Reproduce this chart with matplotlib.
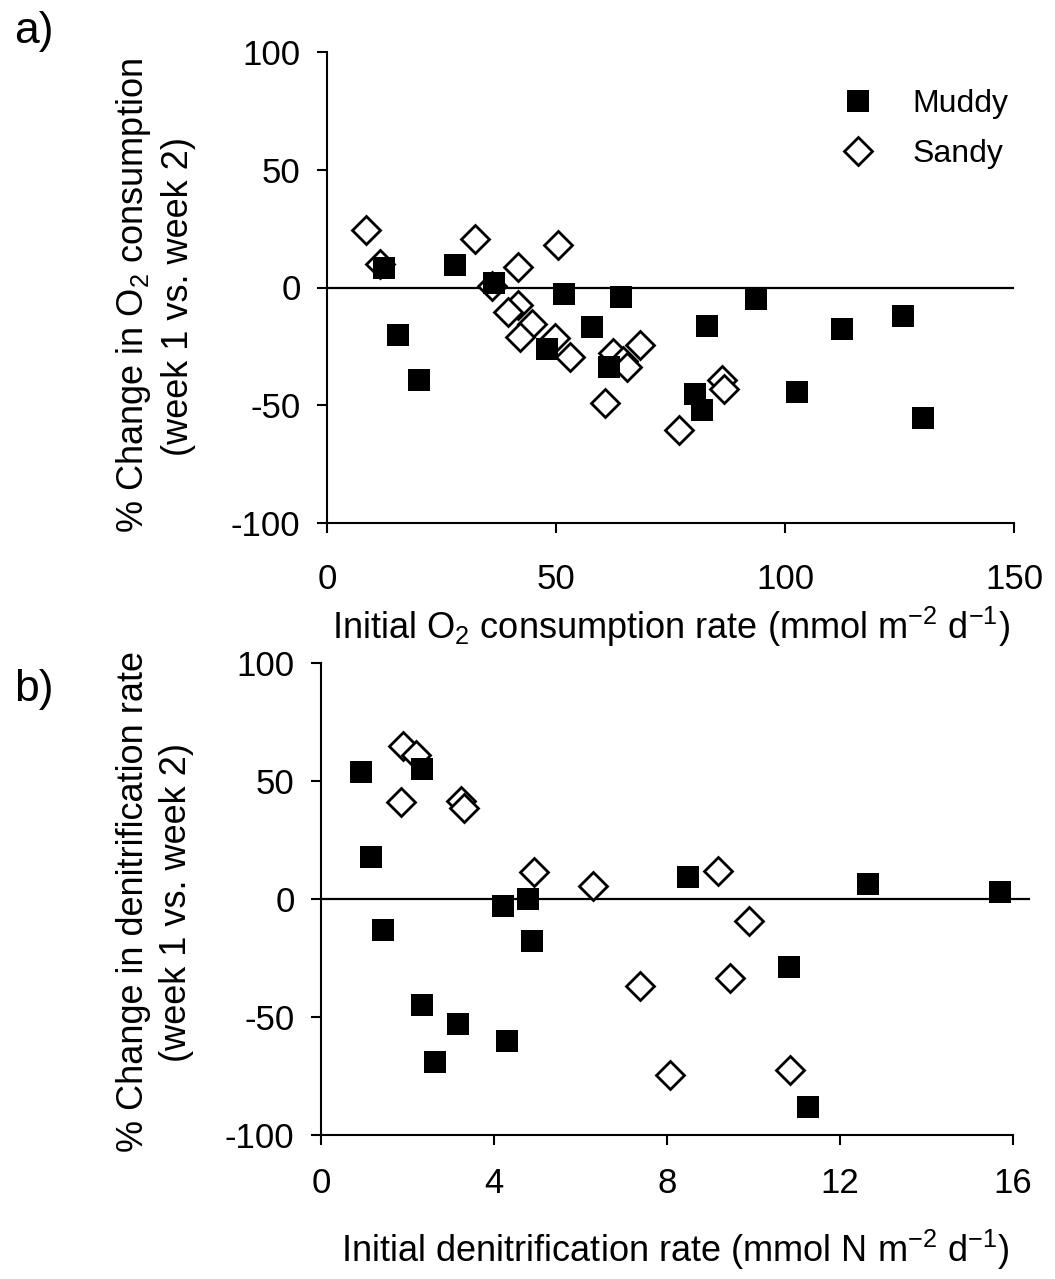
import matplotlib
matplotlib.use("Agg")
import matplotlib.pyplot as plt

plt.rcParams['font.family'] = ['Liberation Sans', 'DejaVu Sans']
plt.rcParams['mathtext.fontset'] = 'custom'
plt.rcParams['mathtext.rm'] = 'Liberation Sans'
plt.rcParams['mathtext.it'] = 'Liberation Sans'
plt.rcParams['axes.unicode_minus'] = False

# panel a: O2 consumption
muddy_o2_x = [12.4, 15.5, 20.1, 27.9, 36.5, 48.0, 51.7, 57.9, 61.6, 64.2,
              80.3, 81.9, 83.0, 93.7, 102.6, 112.4, 125.8, 130.1]
muddy_o2_y = [8.1, -20.0, -39.1, 9.6, 1.7, -26.3, -2.8, -16.8, -33.8, -3.9,
              -45.1, -51.9, -16.5, -4.8, -44.3, -17.7, -12.0, -55.4]
sandy_o2_x = [8.5, 11.6, 32.3, 36.0, 41.7, 50.4, 41.7, 39.5, 44.8, 42.1,
              49.8, 53.1, 62.4, 64.6, 65.5, 68.3, 60.7, 76.9, 86.2, 86.7]
sandy_o2_y = [24.3, 9.9, 20.8, 0.8, 8.6, 18.1, -7.3, -10.3, -15.6, -20.9,
              -21.6, -29.3, -27.8, -31.2, -33.7, -24.3, -48.9, -60.5, -39.4, -43.3]

# panel b: denitrification
muddy_dn_x = [0.92, 2.33, 1.15, 1.43, 4.2, 4.78, 4.87, 2.33, 3.16, 2.63, 4.3,
              8.48, 12.66, 15.7, 10.83, 11.27]
muddy_dn_y = [54, 55, 18, -13, -3, 0, -18, -45, -53, -69, -60,
              9.5, 6.5, 3, -29, -88]
sandy_dn_x = [1.9, 2.2, 1.85, 3.23, 3.3, 4.92, 6.3, 7.39, 9.19, 9.9, 9.45, 8.08, 10.85]
sandy_dn_y = [65, 61, 41, 41.5, 38.5, 11.4, 5.5, -37, 12, -9.5, -33.5, -74.6, -72.5]

o2_ticks = [0, 50, 100, 150]
dn_ticks = [0, 4, 8, 12, 16]
y_ticks = [-100, -50, 0, 50, 100]

W, H = 1055, 1279
fig = plt.figure(figsize=(W / 100, H / 100), dpi=100)

def px_box(x0, x1, y0, y1):
    return [x0 / W, 1 - y1 / H, (x1 - x0) / W, (y1 - y0) / H]

ax_a = fig.add_axes(px_box(327, 1014, 52, 523))
ax_b = fig.add_axes(px_box(321, 1030, 663, 1135))

tick_fs = 25
label_fs = 26

def style(ax, xticks, xlim, spine_end, xpad):
    ax.set_ylim(-100, 100)
    ax.set_xlim(*xlim)
    ax.set_yticks(y_ticks)
    ax.set_xticks(xticks)
    for s in ['top', 'right']:
        ax.spines[s].set_visible(False)
    ax.spines['left'].set_linewidth(1.5)
    ax.spines['bottom'].set_linewidth(1.5)
    ax.spines['bottom'].set_bounds(0, spine_end)
    ax.tick_params(axis='both', direction='out', length=7, width=1.5,
                   labelsize=tick_fs)
    ax.tick_params(axis='x', pad=xpad)
    ax.tick_params(axis='y', pad=12)
    ax.axhline(0, color='black', lw=1.6, zorder=1)

ms_sq = 16
ms_d = 14.5

ax_a.plot(muddy_o2_x, muddy_o2_y, 's', color='black', ms=ms_sq, mew=0,
          label='Muddy', zorder=3)
ax_a.plot(sandy_o2_x, sandy_o2_y, 'D', mfc='white', mec='black', ms=ms_d,
          mew=2, label='Sandy', zorder=2)
style(ax_a, o2_ticks, (0, 150), 150, 22)
ax_a.set_xlabel('Initial O$_2$ consumption rate (mmol m$^{-2}$ d$^{-1}$)',
                fontsize=label_fs, labelpad=6)
ax_a.legend(loc='upper left', bbox_to_anchor=(0.727, 0.955), frameon=False,
            fontsize=tick_fs - 2, handletextpad=1.2, labelspacing=0.62,
            borderpad=0, handlelength=1.0)

ax_b.plot(muddy_dn_x, muddy_dn_y, 's', color='black', ms=ms_sq, mew=0, zorder=3)
ax_b.plot(sandy_dn_x, sandy_dn_y, 'D', mfc='white', mec='black', ms=ms_d,
          mew=2, zorder=2)
style(ax_b, dn_ticks, (0, 16.4), 16, 16)
ax_b.set_xlabel('Initial denitrification rate (mmol N m$^{-2}$ d$^{-1}$)',
                fontsize=label_fs, labelpad=20)

fig.text(155 / W, 1 - 296 / H,
         '% Change in O$_2$ consumption\n(week 1 vs. week 2)',
         rotation=90, ha='center', va='center', fontsize=label_fs,
         linespacing=1.3, multialignment='center')
fig.text(155 / W, 1 - 902 / H,
         '% Change in denitrification rate\n(week 1 vs. week 2)',
         rotation=90, ha='center', va='center', fontsize=label_fs,
         linespacing=1.3, multialignment='center')

fig.text(14 / W, 1 - 31 / H, 'a)', fontsize=32, ha='left', va='center')
fig.text(14 / W, 1 - 690 / H, 'b)', fontsize=32, ha='left', va='center')

fig.savefig('out.png', dpi=100, facecolor='white')
